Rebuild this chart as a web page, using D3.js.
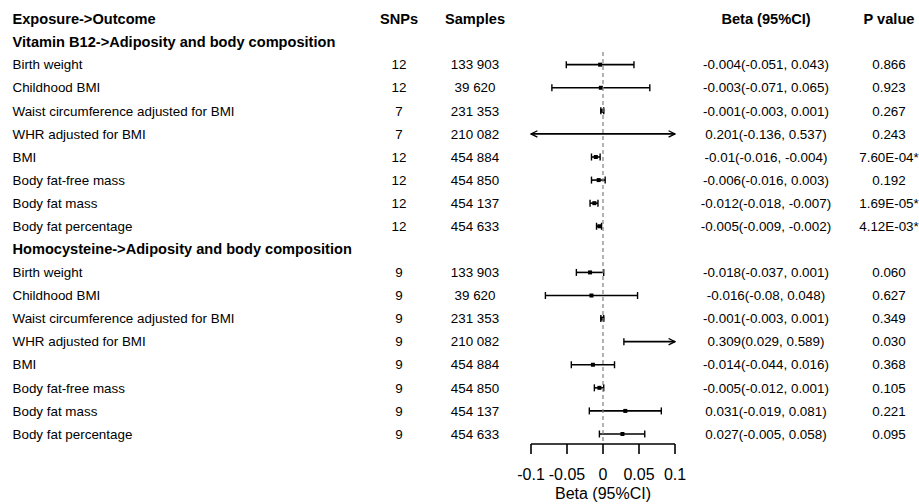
<!DOCTYPE html>
<html>
<head>
<meta charset="utf-8">
<script src="https://cdn.jsdelivr.net/npm/d3@7"></script>
<style>
  body { margin: 0; background: #fff; }
  svg text { font-family: "Liberation Sans", Arial, sans-serif; fill: #000; }
</style>
</head>
<body>
<div id="my_dataviz"></div>
<script>
// data
var groups = ["Vitamin B12->Adiposity and body composition", "Homocysteine->Adiposity and body composition"];
var outcomes = ["Birth weight", "Childhood BMI", "Waist circumference adjusted for BMI", "WHR adjusted for BMI",
                "BMI", "Body fat-free mass", "Body fat mass", "Body fat percentage"];
var samples = [133903, 39620, 231353, 210082, 454884, 454850, 454137, 454633];
var snpsB12 = [12, 12, 7, 7, 12, 12, 12, 12];
var snpsHcy = [9, 9, 9, 9, 9, 9, 9, 9];
var betaB12 = [-0.004, -0.003, -0.001, 0.201, -0.01, -0.006, -0.012, -0.005];
var lowB12  = [-0.051, -0.071, -0.003, -0.136, -0.016, -0.016, -0.018, -0.009];
var upB12   = [0.043, 0.065, 0.001, 0.537, -0.004, 0.003, -0.007, -0.002];
var pB12    = ["0.866", "0.923", "0.267", "0.243", "7.60E-04*", "0.192", "1.69E-05*", "4.12E-03*"];
var betaHcy = [-0.018, -0.016, -0.001, 0.309, -0.014, -0.005, 0.031, 0.027];
var lowHcy  = [-0.037, -0.08, -0.003, 0.029, -0.044, -0.012, -0.019, -0.005];
var upHcy   = [0.001, 0.048, 0.001, 0.589, 0.016, 0.001, 0.081, 0.058];
var pHcy    = ["0.060", "0.627", "0.349", "0.030", "0.368", "0.105", "0.221", "0.095"];
var xTicks = [-0.1, -0.05, 0, 0.05, 0.1];
var headers = ["Exposure->Outcome", "SNPs", "Samples", "Beta (95%CI)", "P value"];

var width = 919, height = 504;
var svg = d3.select("#my_dataviz").append("svg")
  .attr("width", width).attr("height", height);

// build rows: group header then its outcomes
var rows = [];
[[snpsB12, betaB12, lowB12, upB12, pB12], [snpsHcy, betaHcy, lowHcy, upHcy, pHcy]].forEach(function(g, gi) {
  rows.push({type: "group", label: groups[gi]});
  outcomes.forEach(function(o, i) {
    rows.push({type: "row", label: o, snps: g[0][i], n: samples[i], b: g[1][i], lo: g[2][i], hi: g[3][i], p: g[4][i]});
  });
});

var y = d3.scaleLinear().domain([-1, rows.length - 1]).range([18.5, 434]);
var x = d3.scaleLinear().domain([-0.1, 0.1]).range([531, 675]);
var fmtN = d3.formatLocale({decimal: ".", thousands: " ", grouping: [3], currency: ["", ""]}).format(",");

var col = {label: 12.5, snps: 399, samples: 475, beta: 766, p: 889};
var fs = 13.4, fsBold = 14.6;

// header
var hx = [col.label, col.snps, col.samples, col.beta, col.p];
headers.forEach(function(h, i) {
  svg.append("text").attr("x", hx[i]).attr("y", y(-1)).attr("dy", ".35em")
    .attr("text-anchor", i == 0 ? "start" : "middle")
    .style("font-size", fsBold + "px").style("font-weight", "bold").text(h);
});

var rowG = svg.selectAll(".r").data(rows).enter().append("g")
  .attr("transform", function(d, i) { return "translate(0," + y(i) + ")"; });

rowG.append("text").attr("x", col.label).attr("dy", ".35em")
  .style("font-size", function(d) { return (d.type == "group" ? fsBold : fs) + "px"; })
  .style("font-weight", function(d) { return d.type == "group" ? "bold" : null; })
  .text(function(d) { return d.label; });

var dataRows = rowG.filter(function(d) { return d.type == "row"; });
function cell(key, fn) {
  dataRows.append("text").attr("x", col[key]).attr("dy", ".35em")
    .attr("text-anchor", "middle").style("font-size", fs + "px").text(fn);
}
cell("snps", function(d) { return d.snps; });
cell("samples", function(d) { return fmtN(d.n); });
cell("beta", function(d) { return d.b + "(" + d.lo + ", " + d.hi + ")"; });
cell("p", function(d) { return d.p; });

// reference line at 0
svg.append("line")
  .attr("x1", x(0)).attr("x2", x(0)).attr("y1", 52).attr("y2", 444)
  .attr("stroke", "#808080").attr("stroke-width", 1.2).attr("stroke-dasharray", "4,3");

// arrow marker
var defs = svg.append("defs");
defs.append("marker").attr("id", "arr").attr("viewBox", "0 0 10 10")
  .attr("refX", 9).attr("refY", 5).attr("markerWidth", 8).attr("markerHeight", 8)
  .attr("markerUnits", "userSpaceOnUse").attr("orient", "auto-start-reverse")
  .append("path").attr("d", "M1,1 L9,5 L1,9").attr("fill", "none").attr("stroke", "#000").attr("stroke-width", 1.6);

var lo = x.domain()[0], hi = x.domain()[1];
dataRows.append("line")
  .attr("x1", function(d) { return x(Math.max(d.lo, lo)); })
  .attr("x2", function(d) { return x(Math.min(d.hi, hi)); })
  .attr("stroke", "#000").attr("stroke-width", 1.6)
  .attr("marker-start", function(d) { return d.lo < lo ? "url(#arr)" : null; })
  .attr("marker-end", function(d) { return d.hi > hi ? "url(#arr)" : null; });

// end caps
dataRows.filter(function(d) { return d.lo >= lo; }).append("line")
  .attr("x1", function(d) { return x(d.lo); }).attr("x2", function(d) { return x(d.lo); })
  .attr("y1", -3.5).attr("y2", 3.5).attr("stroke", "#000").attr("stroke-width", 1.4);
dataRows.filter(function(d) { return d.hi <= hi; }).append("line")
  .attr("x1", function(d) { return x(d.hi); }).attr("x2", function(d) { return x(d.hi); })
  .attr("y1", -3.5).attr("y2", 3.5).attr("stroke", "#000").attr("stroke-width", 1.4);

// point estimate
dataRows.filter(function(d) { return d.b >= lo && d.b <= hi; }).append("rect")
  .attr("x", function(d) { return x(d.b) - 2; }).attr("y", -2)
  .attr("width", 4).attr("height", 4).attr("fill", "#000");

// axis (line on top, ticks hanging down)
var axisY = 444;
svg.append("line").attr("x1", x(lo)).attr("x2", x(hi)).attr("y1", axisY).attr("y2", axisY)
  .attr("stroke", "#000").attr("stroke-width", 1.6);
svg.selectAll(".tk").data(xTicks).enter().append("line")
  .attr("x1", function(d) { return x(d); }).attr("x2", function(d) { return x(d); })
  .attr("y1", axisY).attr("y2", axisY + 10)
  .attr("stroke", "#000").attr("stroke-width", 1.6);
svg.selectAll(".tl").data(xTicks).enter().append("text")
  .attr("x", function(d) { return x(d); }).attr("y", 474).attr("dy", ".35em")
  .attr("text-anchor", "middle").style("font-size", "16px")
  .text(function(d) { return String(d); });
svg.append("text").attr("x", x(0)).attr("y", 493).attr("dy", ".35em")
  .attr("text-anchor", "middle").style("font-size", "16px").text("Beta (95%CI)");
</script>
</body>
</html>
